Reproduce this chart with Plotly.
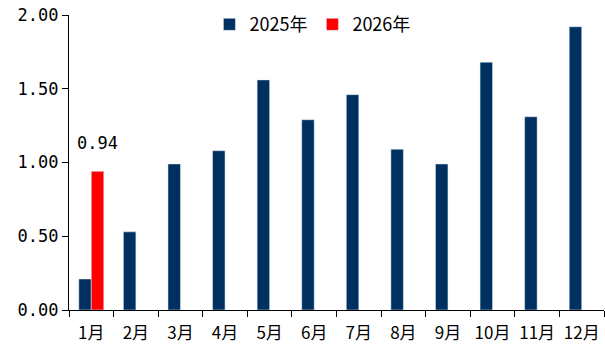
import plotly.graph_objects as go

months = ["1月", "2月", "3月", "4月", "5月", "6月", "7月", "8月", "9月", "10月", "11月", "12月"]
values_2025 = [0.21, 0.53, 0.99, 1.08, 1.56, 1.29, 1.46, 1.09, 0.99, 1.68, 1.31, 1.92]
values_2026 = [0.94, None, None, None, None, None, None, None, None, None, None, None]
y_ticks = [0, 0.5, 1.0, 1.5, 2.0]
y_tick_text = ["0.00", "0.50", "1.00", "1.50", "2.00"]

FONT = "Noto Sans CJK SC"
NUM_FONT = "DejaVu Sans Mono"
NAVY = "#00305F"
RED = "#FF0000"

fig = go.Figure()
fig.add_trace(go.Bar(x=months, y=values_2025, name="2025年", marker_color=NAVY))
fig.add_trace(go.Bar(x=months, y=values_2026, name="2026年", marker_color=RED))

# value label above the 2026 bar
fig.add_annotation(x=months[0], y=values_2026[0], text=f"{values_2026[0]:.2f}",
                   showarrow=False, xshift=6, yshift=28,
                   font=dict(family=NUM_FONT, size=17, color="black"))

fig.update_layout(
    width=605, height=347,
    margin=dict(l=69, r=1, t=15, b=37, autoexpand=False),
    paper_bgcolor="white", plot_bgcolor="white",
    barmode="group", bargap=0.44, bargroupgap=0,
    font=dict(family=FONT, size=17, color="black"),
    legend=dict(orientation="h", x=0.455, xanchor="center", y=1.03, yanchor="top",
                font=dict(family=FONT, size=18), bgcolor="rgba(0,0,0,0)",
                itemwidth=30, tracegroupgap=0),
    showlegend=True,
)
fig.update_xaxes(showline=True, linecolor="black", linewidth=1.2,
                 ticks="outside", tickson="boundaries", ticklen=6, tickcolor="black",
                 ticklabelstandoff=7, tickangle=0, automargin=False,
                 showgrid=False, tickfont=dict(family=FONT, size=17))
fig.update_yaxes(range=[0, 2.0], tickvals=y_ticks, ticktext=y_tick_text,
                 showline=True, linecolor="black", linewidth=1.2,
                 ticks="outside", ticklen=6, tickcolor="black", automargin=False,
                 showgrid=False, zeroline=False, tickfont=dict(family=NUM_FONT, size=17))

fig.write_html("out.html")
